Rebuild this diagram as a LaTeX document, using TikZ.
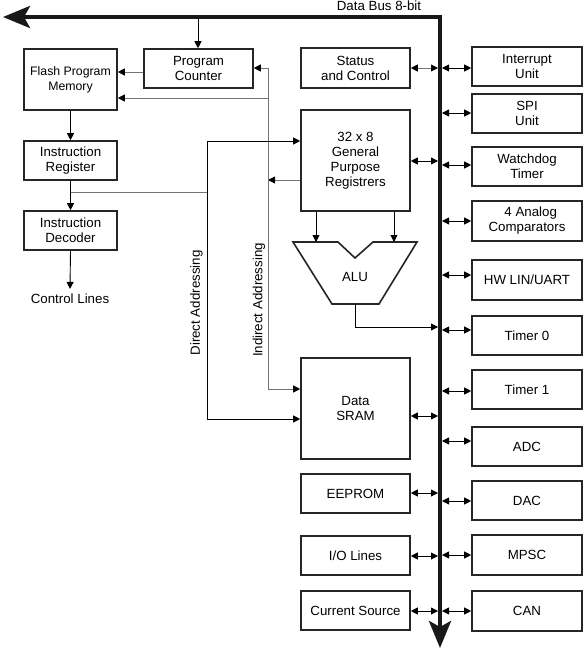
\documentclass[tikz,border=0pt]{standalone}
\usepackage{fontspec}
\setmainfont{Liberation Sans}
\usetikzlibrary{arrows.meta}
\begin{document}
\begin{tikzpicture}[x=1pt,y=-1pt,
  font=\fontsize{13.3}{15}\selectfont,
  ah/.tip={Triangle[length=7pt,width=7pt,color=black]},
  bigah/.tip={Stealth[length=27pt,width=22pt,inset=6pt]},
  box/.style={draw=black!85,line width=1.6pt,align=center,inner sep=0pt},
  ln/.style={line width=0.9pt,draw=black},
  gln/.style={line width=0.9pt,draw=black!55},
  arr/.style={ln,-ah},
  garr/.style={gln,-ah},
  dbl/.style={ln,ah-ah},
  gdbl/.style={gln,ah-ah},
  bus/.style={line width=4pt,draw=black!90,line join=miter},
  sbox/.style={box,minimum width=93pt,minimum height=39pt},
  mbox/.style={box,minimum width=109pt,minimum height=39pt},
  rbox/.style={box,minimum width=110pt,minimum height=39pt}]
\useasboundingbox (0,0) rectangle (585,651);
\fill[white] (0,0) rectangle (585,651);

% bus
\coordinate (busL) at (438,17);
\coordinate (busR) at (442,17);
\draw[bus,bigah-bigah] (3,17) -- (440,17) -- (440,648);
\node (dbus) at (379,6) {Data Bus 8-bit};

% left column
\node[box,minimum width=93pt,minimum height=61pt,font=\fontsize{12.3}{15}\selectfont] (flash) at (70.5,79.5) {Flash Program\\Memory};
\node[box,minimum width=109pt,minimum height=39pt] (pc) at (198.5,68.5) {Program\\Counter};
\node[sbox] (ir) at (70.5,160.5) {Instruction\\Register};
\node[sbox] (id) at (70.5,230.5) {Instruction\\Decoder};
\node[inner sep=5pt] (ctl) at (70,299) {Control Lines};

% middle column
\node[mbox,minimum height=40pt] (status) at (355.5,68) {Status\\and Control};
\node[mbox,minimum height=101pt] (gpr) at (355.5,160.5) {32 x 8\\General\\Purpose\\Registrers};
\node[mbox,minimum height=101pt] (sram) at (355.5,408.5) {Data\\SRAM};
\node[mbox] (eeprom) at (355.5,493.5) {EEPROM};
\node[mbox] (io) at (355.5,555.5) {I/O Lines};
\node[mbox] (cur) at (355.5,610.5) {Current Source};

% ALU
\draw[box] (293,242) -- (338,242) -- (355,258) -- (373,242) -- (417,242) -- (379,304) -- (332,304) -- cycle;
\node (alu) at (355,277) {ALU};
\coordinate (aluL) at (316,242);
\coordinate (aluR) at (394,242);
\coordinate (aluOut) at (355,304);
\coordinate (aluK) at (355,327);

% right column
\node[rbox] (int) at (527,66.5) {Interrupt\\Unit};
\node[rbox] (spi) at (527,113.5) {SPI\\Unit};
\node[rbox] (wd) at (527,166.5) {Watchdog\\Timer};
\node[rbox,minimum height=40pt] (ana) at (527,221) {\ \ 4 Analog\\Comparators};
\node[rbox,minimum height=40pt] (hw) at (527,280) {HW LIN/UART};
\node[rbox] (t0) at (527,335.5) {Timer 0};
\node[rbox] (t1) at (527,389.5) {Timer 1};
\node[rbox] (adc) at (527,446.5) {ADC};
\node[rbox] (dac) at (527,500.5) {DAC};
\node[rbox,minimum height=40pt] (mpsc) at (527,555) {MPSC};
\node[rbox,minimum height=40pt] (can) at (527,611) {CAN};

% program flow
\coordinate (pcbus) at (198,19);
\draw[arr] (pcbus) -- (pcbus |- pc.north);
\coordinate (y72) at (0,72);
\draw[garr] (pc.west |- y72) -- (flash.east |- y72);
\draw[arr] (flash.south) -- (ir.north);
\draw[arr] (ir.south) -- (id.north);
\draw[arr] (id.south) -- (ctl.north);

% indirect addressing
\coordinate (iTop) at (268,68);
\coordinate (iMid) at (268,98);
\coordinate (iGpr) at (268,180);
\coordinate (iBot) at (268,389);
\draw[garr] (iTop) -- (iTop -| pc.east);
\draw[garr] (iMid) -- (iMid -| flash.east);
\draw[garr] (iGpr -| gpr.west) -- (iGpr);
\draw[garr] (iTop) -- (iBot) -- (iBot -| sram.west);
\node[rotate=90] (ilab) at (259,300) {Indirect Addressing};

% direct addressing
\coordinate (dTop) at (207,141);
\coordinate (dIr) at (207,192);
\coordinate (dBot) at (207,419);
\draw[arr] (dBot) -- (dTop) -- (dTop -| gpr.west);
\draw[arr] (dTop) -- (dBot) -- (dBot -| sram.west);
\draw[gln] (ir.south |- dIr) -- (dIr);
\node[rotate=90] (dlab) at (196.5,303) {Direct Addressing};

% GPR to ALU
\draw[arr] (gpr.south -| aluL) -- (aluL);
\draw[arr] (gpr.south -| aluR) -- (aluR);
\draw[arr] (aluOut) -- (aluK) -- (aluK -| busL);

% bus connections, left
\coordinate (bS) at (438,68);
\draw[gdbl] (status.east |- bS) -- (bS);
\foreach \n/\y in {gpr/161,sram/416,eeprom/493,io/556,cur/611}{
  \coordinate (b) at (438,\y);
  \draw[dbl] (\n.east |- b) -- (b);
}
% bus connections, right
\foreach \n/\y in {int/68,spi/113,wd/165,ana/221,hw/275,t0/330,t1/391,adc/441,dac/501,mpsc/555,can/611}{
  \coordinate (b) at (442,\y);
  \draw[dbl] (b) -- (b -| \n.west);
}
\end{tikzpicture}
\end{document}
